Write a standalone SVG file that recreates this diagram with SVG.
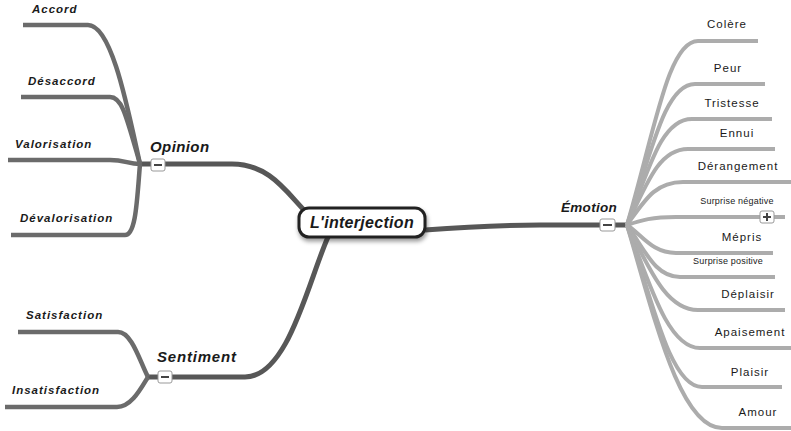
<svg xmlns="http://www.w3.org/2000/svg" width="791" height="431" viewBox="0 0 791 431">
<style>
.dk{fill:none;stroke:#575757;stroke-width:5;stroke-linecap:butt}
.md{fill:none;stroke:#6b6b6b;stroke-width:4.5}
.lt{fill:none;stroke:#acacac;stroke-width:4}
.bi{font-family:"Liberation Sans",Arial,sans-serif;font-style:italic;font-weight:bold;fill:#1a1a1a}
.sm{font-size:11.5px;letter-spacing:1px}
.rg{font-family:"Liberation Sans",Arial,sans-serif;fill:#1a1a1a;letter-spacing:1px;font-size:11.5px}
.tiny{font-size:9px;letter-spacing:0.2px}
.tog rect{fill:#fff;stroke:#999;stroke-width:1}
.tog path{stroke:#444;stroke-width:2}
</style>
<defs>
<filter id="sh" x="-20%" y="-40%" width="140%" height="190%">
<feDropShadow dx="1" dy="3" stdDeviation="2" flood-color="#000" flood-opacity="0.4"/>
</filter>
</defs>
<g id="connectors">
<path class="dk" d="M140,164 L232,164 C268,164 285,190 304,210"/>
<path class="dk" d="M148,377 L245,377 C288,377 308,282 328,237"/>
<path class="dk" d="M425,230 C462,227 500,225 540,225 L627,225"/>
<path class="md" d="M23,25 L88,25 C112,25 128,110 140,164"/>
<path class="md" d="M21,97 L110,97 C122,97 126,115 140,164"/>
<path class="md" d="M8,160 L110,160 C125,160 128,164 140,164"/>
<path class="md" d="M11,235 L125,235 C136,235 137,200 140,164"/>
<path class="md" d="M18,332 L118,332 C132,332 140,362 148,377"/>
<path class="md" d="M5,407 L117,407 C131,407 140,390 148,377"/>
<path class="lt" d="M627,225 C655,130 668,41 698,41 L758,41"/>
<path class="lt" d="M627,225 C652,150 665,84 695,84 L765,84"/>
<path class="lt" d="M627,225 C650,165 662,119 692,119 L772,119"/>
<path class="lt" d="M627,225 C648,180 660,149 688,149 L775,149"/>
<path class="lt" d="M627,225 C645,200 655,182 683,182 L791,182"/>
<path class="lt" d="M627,225 C642,220 652,217 676,217 L785,217"/>
<path class="lt" d="M627,225 C642,235 652,253 676,253 L773,253"/>
<path class="lt" d="M627,225 C645,250 655,277 680,277 L775,277"/>
<path class="lt" d="M627,225 C648,265 665,310 698,310 L785,310"/>
<path class="lt" d="M627,225 C650,285 668,348 700,348 L791,348"/>
<path class="lt" d="M627,225 C652,300 670,387 702,387 L782,387"/>
<path class="lt" d="M627,225 C655,320 680,428 722,428 L791,428"/>
</g>
<g id="root">
<rect x="299" y="208" width="126" height="29" rx="10" fill="#fff" stroke="#222" stroke-width="3" filter="url(#sh)"/>
<text class="bi" x="362" y="228" font-size="16" letter-spacing="0.3" text-anchor="middle">L'interjection</text>
</g>
<g id="opinion">
<text class="bi" x="150" y="152" font-size="15" letter-spacing="0.4">Opinion</text>
<g class="tog"><rect x="151" y="159" width="14" height="12" rx="2"/><path d="M154,165 H162"/></g>
</g>
<g id="accord"><text class="bi sm" x="32" y="13">Accord</text></g>
<g id="desaccord"><text class="bi sm" x="28" y="85">Désaccord</text></g>
<g id="valorisation"><text class="bi sm" x="15" y="148">Valorisation</text></g>
<g id="devalorisation"><text class="bi sm" x="20" y="222">Dévalorisation</text></g>
<g id="sentiment">
<text class="bi" x="157" y="362" font-size="15" letter-spacing="0.8">Sentiment</text>
<g class="tog"><rect x="158" y="371" width="14" height="12" rx="2"/><path d="M161,377 H169"/></g>
</g>
<g id="satisfaction"><text class="bi sm" x="26" y="319">Satisfaction</text></g>
<g id="insatisfaction"><text class="bi sm" x="12" y="394">Insatisfaction</text></g>
<g id="emotion">
<text class="bi" x="561" y="212" font-size="13.5" letter-spacing="0.3">Émotion</text>
<g class="tog"><rect x="600" y="219" width="15" height="12" rx="2"/><path d="M603,225 H612"/></g>
</g>
<g id="colere"><text class="rg" x="727" y="28" text-anchor="middle">Colère</text></g>
<g id="peur"><text class="rg" x="728" y="72" text-anchor="middle">Peur</text></g>
<g id="tristesse"><text class="rg" x="732" y="107" text-anchor="middle">Tristesse</text></g>
<g id="ennui"><text class="rg" x="737" y="137" text-anchor="middle">Ennui</text></g>
<g id="derangement"><text class="rg" x="738" y="170" text-anchor="middle">Dérangement</text></g>
<g id="surprise-negative">
<text class="rg tiny" x="737" y="204" text-anchor="middle">Surprise négative</text>
<g class="tog"><rect x="760" y="211" width="14" height="12" rx="2"/><path d="M763,217 H771 M767,213 V221"/></g>
</g>
<g id="mepris"><text class="rg" x="742" y="241" text-anchor="middle">Mépris</text></g>
<g id="surprise-positive"><text class="rg tiny" x="728" y="264" text-anchor="middle">Surprise positive</text></g>
<g id="deplaisir"><text class="rg" x="748" y="298" text-anchor="middle">Déplaisir</text></g>
<g id="apaisement"><text class="rg" x="750" y="336" text-anchor="middle">Apaisement</text></g>
<g id="plaisir"><text class="rg" x="750" y="376" text-anchor="middle">Plaisir</text></g>
<g id="amour"><text class="rg" x="758" y="416" text-anchor="middle">Amour</text></g>
</svg>
